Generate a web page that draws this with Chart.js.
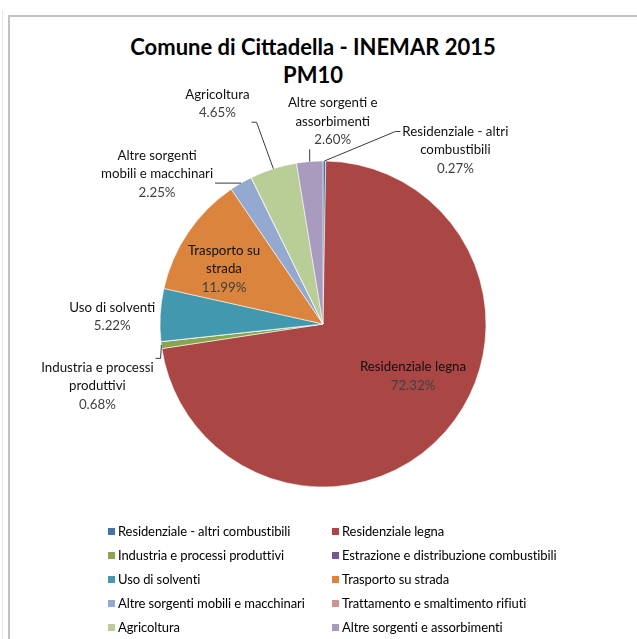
<!DOCTYPE html>
<html lang="it">
<head>
<meta charset="utf-8">
<title>Comune di Cittadella - INEMAR 2015 PM10</title>
<script src="https://cdn.jsdelivr.net/npm/chart.js@4/dist/chart.umd.min.js"></script>
<style>
  html, body { margin: 0; padding: 0; background: #fff; }
  body { width: 637px; height: 639px; position: relative; overflow: hidden; font-family: Lato, "Open Sans", sans-serif; }
  .edge { position: absolute; left: 2px; top: 10px; width: 1px; height: 640px; background: #e8e8e8; }
  .frame { position: absolute; left: 8px; top: 15px; width: 720px; height: 720px; border: 2px solid #c2c2c2; box-sizing: border-box; }
  #chart { position: absolute; left: 0; top: 0; }
  .title { position: absolute; left: 103px; width: 420px; text-align: center; font: bold 22px Lato, sans-serif; color: #000; line-height: 28px; top: 33px; }
  .legend { position: absolute; left: 0; top: 0; }
  .legend .item { position: absolute; font: 13px Lato, sans-serif; color: #000; white-space: nowrap; line-height: 14px; letter-spacing: -0.1px; }
  .legend .swatch { display: inline-block; width: 7px; height: 7px; margin-right: 3px; vertical-align: 1px; }
</style>
</head>
<body>
<div class="edge"></div>
<div class="frame"></div>
<div class="title">Comune di Cittadella - INEMAR 2015<br>PM10</div>
<canvas id="chart" width="637" height="639"></canvas>
<div id="legend" class="legend"></div>
<script>
// Ripartizione percentuale delle emissioni di PM10 per macrosettore
var CATEGORIES = [
  "Residenziale - altri combustibili",
  "Residenziale legna",
  "Industria e processi produttivi",
  "Estrazione e distribuzione combustibili",
  "Uso di solventi",
  "Trasporto su strada",
  "Altre sorgenti mobili e macchinari",
  "Trattamento e smaltimento rifiuti",
  "Agricoltura",
  "Altre sorgenti e assorbimenti"
];
var SHARES = [0.27, 72.32, 0.68, 0.01, 5.22, 11.99, 2.25, 0.01, 4.65, 2.60];
var COLORS = [
  "#4572A7", "#AA4643", "#89A54E", "#71588F", "#4198AF",
  "#DB843D", "#93A9CF", "#D19392", "#B9CD96", "#A99BBD"
];

// etichette: testo a capo come nel grafico originale (null = nessuna etichetta)
var LABEL_LINES = [
  ["Residenziale - altri", "combustibili"],
  ["Residenziale legna"],
  ["Industria e processi", "produttivi"],
  null,
  ["Uso di solventi"],
  ["Trasporto su", "strada"],
  ["Altre sorgenti", "mobili e macchinari"],
  null,
  ["Agricoltura"],
  ["Altre sorgenti e", "assorbimenti"]
];
// posizione dell'etichetta: r = frazione del raggio lungo la bisettrice, dx/dy = spostamento
var LABEL_PLACE = [
  { r: 1, dx: 131, dy: -11, leader: true, attach: "first" },
  { r: 0, dx: 90, dy: 52 },
  { r: 1, dx: -64, dy: 41, leader: true },
  null,
  { r: 1, dx: -48, dy: 2 },
  { r: 0, dx: -99, dy: -55 },
  { r: 1, dx: -84, dy: -9, leader: true },
  null,
  { r: 1, dx: -56, dy: -65, leader: true },
  { r: 1, dx: 23, dy: -40, leader: true }
];

var LABEL_FONT = "13.3px Lato, sans-serif";
var LINE_H = 18.5;

var pieLabels = {
  id: "pieLabels",
  afterDatasetsDraw: function (chart) {
    var ctx = chart.ctx;
    var meta = chart.getDatasetMeta(0);
    var total = SHARES.reduce(function (a, b) { return a + b; }, 0);
    ctx.save();
    ctx.font = LABEL_FONT;
    ctx.textAlign = "center";
    ctx.textBaseline = "middle";
    meta.data.forEach(function (arc, i) {
      var place = LABEL_PLACE[i];
      if (!place || !LABEL_LINES[i]) return;
      var p = arc.getProps(["x", "y", "startAngle", "endAngle", "outerRadius"], true);
      var mid = (p.startAngle + p.endAngle) / 2;
      var ex = p.x + Math.cos(mid) * p.outerRadius;
      var ey = p.y + Math.sin(mid) * p.outerRadius;
      var ax = p.x + Math.cos(mid) * p.outerRadius * place.r;
      var ay = p.y + Math.sin(mid) * p.outerRadius * place.r;
      var cx = ax + place.dx;
      var cy = ay + place.dy;
      var lines = LABEL_LINES[i].concat([(SHARES[i] / total * 100).toFixed(2) + "%"]);
      var w = 0;
      lines.forEach(function (t) { w = Math.max(w, ctx.measureText(t).width); });
      var h = lines.length * LINE_H;
      var top = cy - h / 2;
      var box = { l: cx - w / 2 - 2, r: cx + w / 2 + 2, t: top, b: top + h };

      if (place.leader) {
        var tx, ty;
        if (place.attach === "first") {
          tx = ex < box.l ? box.l : box.r;
          ty = top + LINE_H / 2;
        } else {
          tx = Math.min(Math.max(ex, box.l), box.r);
          ty = Math.min(Math.max(ey, box.t), box.b);
        }
        ctx.strokeStyle = "#3a3a3a";
        ctx.lineWidth = 1;
        ctx.beginPath();
        ctx.moveTo(ex, ey);
        if (tx === box.l || tx === box.r) {
          var s = tx === box.l ? -1 : 1;
          ctx.lineTo(tx + s * 5, ty);
        }
        ctx.lineTo(tx, ty);
        ctx.stroke();
      }

      lines.forEach(function (t, k) {
        ctx.fillStyle = k === lines.length - 1 ? "#404040" : "#111";
        ctx.fillText(t, cx, top + LINE_H * (k + 0.5));
      });
    });
    ctx.restore();
  }
};

function renderLegend(container) {
  container.innerHTML = "";
  CATEGORIES.forEach(function (name, i) {
    var item = document.createElement("div");
    item.className = "item";
    item.style.left = (i % 2 === 0 ? 108 : 332) + "px";
    item.style.top = (524 + Math.floor(i / 2) * 24) + "px";
    var sw = document.createElement("span");
    sw.className = "swatch";
    sw.style.background = COLORS[i];
    item.appendChild(sw);
    item.appendChild(document.createTextNode(name));
    container.appendChild(item);
  });
}

new Chart(document.getElementById("chart"), {
  type: "pie",
  data: {
    labels: CATEGORIES,
    datasets: [{
      data: SHARES,
      backgroundColor: COLORS,
      borderColor: "rgba(255,255,255,0.7)",
      borderWidth: 0.8,
      radius: 163
    }]
  },
  options: {
    responsive: false,
    animation: false,
    layout: { padding: { left: 158, right: 149, top: 159, bottom: 150 } },
    plugins: {
      legend: { display: false },
      title: { display: false },
      tooltip: { enabled: false }
    }
  },
  plugins: [pieLabels]
});

renderLegend(document.getElementById("legend"));
</script>
</body>
</html>
